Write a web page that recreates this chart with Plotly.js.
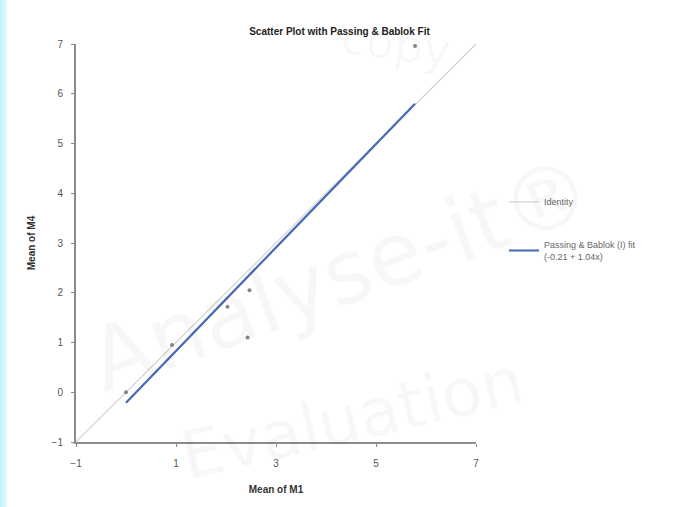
<!DOCTYPE html>
<html><head><meta charset="utf-8">
<script src="https://cdn.plot.ly/plotly-3.0.1.min.js"></script>
<style>
html,body{margin:0;padding:0;background:#fff;}
#strip{position:absolute;left:0;top:0;width:7px;height:507px;background:linear-gradient(to right,#b8f4f8,#e4fbfc);z-index:5;}
#chart{width:679px;height:507px;}
</style></head>
<body>
<div id="strip"></div>
<div id="chart"></div>
<script>
// Data
const m1 = [0.0, 0.92, 2.03, 2.47, 2.43, 5.78];
const m4 = [0.0, 0.95, 1.72, 2.05, 1.1, 6.96];
const identityX = [-1, 7];
const identityY = [-1, 7];
const fitIntercept = -0.21;
const fitSlope = 1.04;
const fitX = [Math.min(...m1), Math.max(...m1)];
const fitY = fitX.map(x => fitIntercept + fitSlope * x);
const xTicks = [-1, 1, 3, 5, 7];
const yTicks = [-1, 0, 1, 2, 3, 4, 5, 6, 7];

const traces = [
  {x: identityX, y: identityY, mode: 'lines', name: 'Identity',
   line: {color: '#d6d6d6', width: 1.3}, legendgroup: 'a'},
  {x: fitX, y: fitY, mode: 'lines', name: 'Passing & Bablok (I) fit<br>(-0.21 + 1.04x)',
   line: {color: '#4767b8', width: 2.2}, legendgroup: 'b'},
  {x: m1, y: m4, mode: 'markers', showlegend: false,
   marker: {color: '#858585', size: 4}}
];

const wm = 'rgba(0,0,0,0.03)';
const layout = {
  width: 679, height: 507,
  margin: {l: 76, r: 203, t: 44, b: 65},
  paper_bgcolor: '#fff', plot_bgcolor: '#fff',
  font: {family: 'Liberation Sans, Arial, sans-serif', size: 10, color: '#555'},
  title: {text: '<b>Scatter Plot with Passing & Bablok Fit</b>', x: 0.5, xanchor: 'center',
          y: 0.938, yanchor: 'middle', font: {size: 10, color: '#222'}},
  xaxis: {range: [-1, 7], tickvals: xTicks, ticks: 'outside', ticklen: 3, tickcolor: '#888',
          ticklabelstandoff: 8,
          showline: true, linecolor: '#8c8c8c', linewidth: 2, showgrid: false, zeroline: false,
          tickfont: {size: 10, color: '#555'},
          title: {text: '<b>Mean of M1</b>', standoff: 18, font: {size: 10, color: '#333'}}},
  yaxis: {range: [-1, 7], tickvals: yTicks, ticks: 'outside', ticklen: 3, tickcolor: '#888',
          ticklabelstandoff: 6,
          showline: true, linecolor: '#8c8c8c', linewidth: 2, showgrid: false, zeroline: false,
          tickfont: {size: 10, color: '#555'},
          title: {text: '<b>Mean of M4</b>', standoff: 14, font: {size: 10, color: '#333'}}},
  legend: {x: 1.07, xanchor: 'left', y: 0.64, yanchor: 'top', bgcolor: 'rgba(0,0,0,0)',
           font: {size: 9, color: '#666'}, tracegroupgap: 26, itemwidth: 30,
           traceorder: 'grouped'},
  showlegend: true,
  annotations: [
    {text: 'Analyse-it®', xref: 'paper', yref: 'paper', x: 0.66, y: 0.42, xanchor: 'center', yanchor: 'middle',
     showarrow: false, textangle: -20, font: {size: 88, color: wm, family: 'DejaVu Sans'}},
    {text: 'Evaluation', xref: 'paper', yref: 'paper', x: 0.69, y: 0.06, xanchor: 'center', yanchor: 'middle',
     showarrow: false, textangle: -13, font: {size: 66, color: wm, family: 'DejaVu Sans'}},
    {text: 'copy', xref: 'paper', yref: 'paper', x: 0.8, y: 1.0, xanchor: 'center', yanchor: 'middle',
     showarrow: false, textangle: 8, font: {size: 46, color: wm, family: 'DejaVu Sans'}}
  ]
};

Plotly.newPlot('chart', traces, layout, {displayModeBar: false, staticPlot: true});
</script>
</body></html>
